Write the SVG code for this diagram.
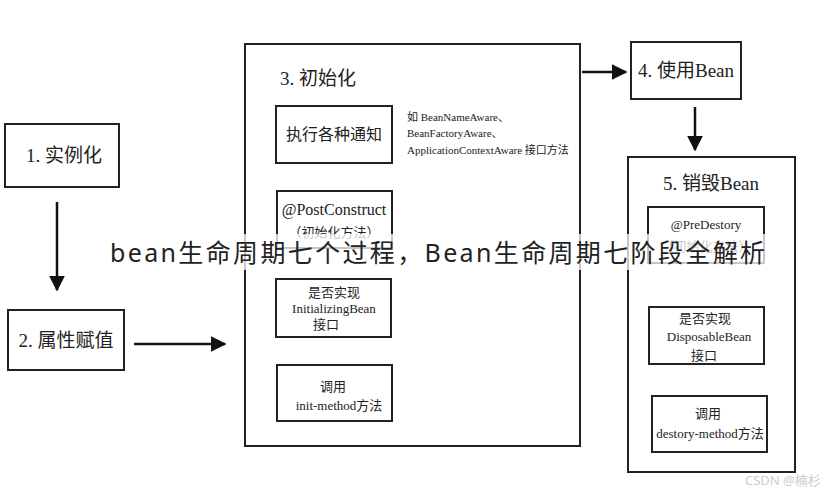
<svg xmlns="http://www.w3.org/2000/svg" width="834" height="490" viewBox="0 0 834 490">
<style>
.b{fill:none;stroke:#222;stroke-width:2}
.t{font-family:"Liberation Serif","Noto Sans CJK SC",serif;fill:#222;text-anchor:middle}
.s{font-size:13px}
.l{font-size:19px}
.c{stroke:#111;stroke-width:2.5;fill:none}
</style>
<defs>
<marker id="A" viewBox="0 0 10 10" markerWidth="16" markerHeight="16" refX="9" refY="5" orient="auto" markerUnits="userSpaceOnUse"><path d="M0,0 L10,5 L0,10 z" fill="#111"/></marker></defs>
<rect width="834" height="490" fill="#fff"/>
<g id="n1"><rect class="b" x="5" y="124" width="114" height="63"/><text class="t l" x="64" y="162">1. 实例化</text></g>
<g id="n2"><rect class="b" x="8" y="310" width="116" height="60"/><text class="t l" x="66" y="347">2. 属性赋值</text></g>
<g id="n3"><rect class="b" x="245" y="44" width="335" height="402"/><text class="t l" x="318" y="85">3. 初始化</text>
<rect class="b" x="276" y="106" width="116" height="57"/><text class="t" font-size="16" x="334" y="140">执行各种通知</text>
<text class="t" font-size="11" x="407" y="121" style="text-anchor:start">如 BeanNameAware、</text>
<text class="t" font-size="11" x="407" y="137" style="text-anchor:start">BeanFactoryAware、</text>
<text class="t" font-size="11" x="407" y="154" style="text-anchor:start">ApplicationContextAware 接口方法</text>
<rect class="b" x="277" y="191" width="115" height="57"/><text class="t" font-size="16" x="334" y="215">@PostConstruct</text><text class="t s" x="334" y="237" fill="#666">（初始化方法）</text>
<rect class="b" x="276" y="279" width="115" height="58"/><text class="t s" x="334" y="297">是否实现</text><text class="t s" x="334" y="313">InitializingBean</text><text class="t s" x="326" y="329">接口</text>
<rect class="b" x="277" y="365" width="115" height="56"/><text class="t s" x="333" y="391">调用</text><text class="t s" x="339" y="410">init-method方法</text></g>
<g id="n4"><rect class="b" x="631" y="42" width="110" height="57"/><text class="t l" x="686" y="77">4. 使用Bean</text></g>
<g id="n5"><rect class="b" x="628" y="157" width="167" height="315"/><text class="t l" x="711" y="190">5. 销毁Bean</text>
<rect class="b" x="648" y="207" width="116" height="56"/><text class="t s" x="706" y="229">@PreDestory</text><text class="t s" x="706" y="251">（初始化方法）</text>
<rect class="b" x="649" y="307" width="115" height="57"/><text class="t s" x="705" y="323">是否实现</text><text class="t s" x="709" y="341">DisposableBean</text><text class="t s" x="704" y="360">接口</text>
<rect class="b" x="652" y="396" width="115" height="56"/><text class="t s" x="708" y="418">调用</text><text class="t s" x="710" y="438">destory-method方法</text></g>
<g id="connectors">
<line class="c" x1="57" y1="202" x2="57" y2="290" marker-end="url(#A)"/>
<line class="c" x1="134" y1="344" x2="225" y2="344" marker-end="url(#A)"/>
<line class="c" x1="582" y1="72" x2="626" y2="72" marker-end="url(#A)"/>
<line class="c" x1="695" y1="107" x2="695" y2="150" marker-end="url(#A)"/>
</g>
<rect x="100" y="234" width="675" height="36" fill="#fff" fill-opacity="0.75"/>
<text x="110" y="262" font-family="'Noto Sans','Noto Sans CJK SC',sans-serif" font-size="25" textLength="655" lengthAdjust="spacing" fill="#222">bean生命周期七个过程，Bean生命周期七阶段全解析</text>
<text x="745" y="485" font-family="'Noto Sans','Noto Sans CJK SC',sans-serif" font-size="13" fill="#ccc">CSDN @楠杉</text>
</svg>
